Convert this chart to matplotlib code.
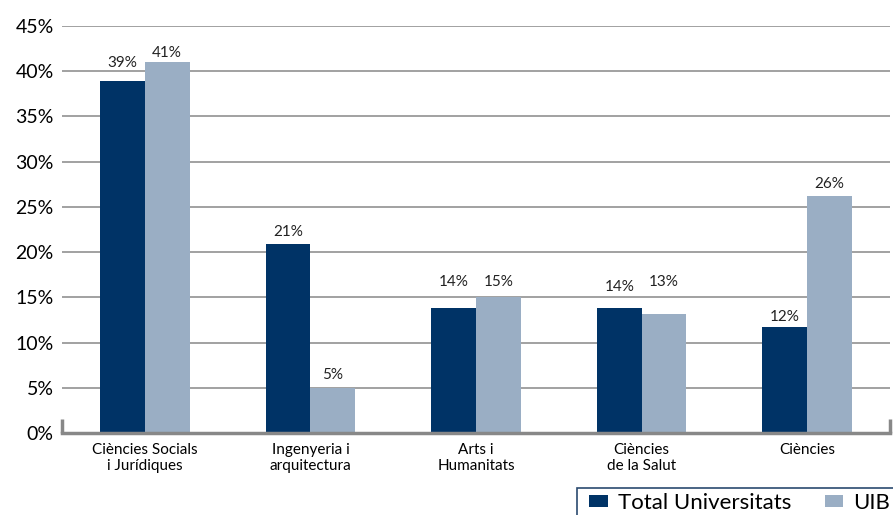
import numpy as np
import matplotlib
matplotlib.use("Agg")
import matplotlib.pyplot as plt
from matplotlib.patches import Patch, Rectangle

# ====== data ======
categories = ["Ciències Socials\ni Jurídiques", "Ingenyeria i\narquitectura",
              "Arts i\nHumanitats", "Ciències\nde la Salut", "Ciències"]
total_univ = [38.9, 20.9, 13.8, 13.8, 11.7]
uib = [41.0, 5.0, 15.0, 13.2, 26.2]
total_labels = ["39%", "21%", "14%", "14%", "12%"]
uib_labels = ["41%", "5%", "15%", "13%", "26%"]
series_names = ["Total Universitats", "UIB"]
yticks = list(range(0, 50, 5))
# ==================

DARK = "#003366"
LIGHT = "#9aaec4"
GRID = "#9a9a9a"
AXIS = "#888888"
# label gap above each bar, in pixels (as placed in the original)
GAP_TOTAL = [11, 5, 19, 14, 3]
GAP_UIB = [2, 6, 8, 25, 5]

plt.rcParams["font.family"] = ["Lato", "DejaVu Sans"]

fig = plt.figure(figsize=(8.93, 5.15), dpi=100)
ax = fig.add_axes([62 / 893, 1 - 433 / 515, 828 / 893, 407 / 515])

x = np.arange(len(categories))
w = 0.27
b1 = ax.bar(x - w / 2, total_univ, w, color=DARK, zorder=3)
b2 = ax.bar(x + w / 2, uib, w, color=LIGHT, zorder=3)

for bars, labels, gaps in ((b1, total_labels, GAP_TOTAL), (b2, uib_labels, GAP_UIB)):
    for rect, lab, g in zip(bars, labels, gaps):
        ax.annotate(lab, (rect.get_x() + rect.get_width() / 2, rect.get_height()),
                    xytext=(0, g * 0.72), textcoords="offset points",
                    ha="center", va="bottom", fontsize=11, color="#222222")

ax.set_xlim(-0.5, len(categories) - 0.5)
ax.set_ylim(0, 45)
ax.set_yticks(yticks)
ax.set_yticklabels([f"{t}%" for t in yticks], fontsize=14)
ax.set_xticks(x)
ax.set_xticklabels(categories, fontsize=11, linespacing=1.2)
ax.tick_params(axis="both", length=0, pad=6)
ax.tick_params(axis="x", pad=7)

ax.grid(axis="y", color=GRID, linewidth=1.3, zorder=0)
for s in ["top", "right", "left"]:
    ax.spines[s].set_visible(False)
ax.spines["bottom"].set_color(AXIS)
ax.spines["bottom"].set_linewidth(2.5)
ax.spines["bottom"].set_zorder(4)

# little up-turned ends of the floor line
for xe in (0.0, 1.0):
    ax.plot([xe, xe], [0, 0.035], transform=ax.transAxes, color=AXIS,
            linewidth=2.5, clip_on=False, zorder=4, solid_capstyle="butt")

# legend box runs off the right and bottom edge, as in the original
fig.patches.append(Rectangle((577 / 893, -0.05), 0.5, 0.05 + 27 / 515,
                             transform=fig.transFigure, facecolor="white",
                             edgecolor="#2b4a6f", linewidth=1.2))
handles = [Patch(facecolor=DARK), Patch(facecolor=LIGHT)]
leg = fig.legend(handles, series_names, loc="center left",
                 bbox_to_anchor=(589 / 893, 1 - 503 / 515), ncol=2,
                 fontsize=16, frameon=False,
                 handlelength=0.85, handleheight=0.5, handletextpad=0.45,
                 columnspacing=1.5, borderpad=0, borderaxespad=0)

fig.savefig("out.png", dpi=100)
